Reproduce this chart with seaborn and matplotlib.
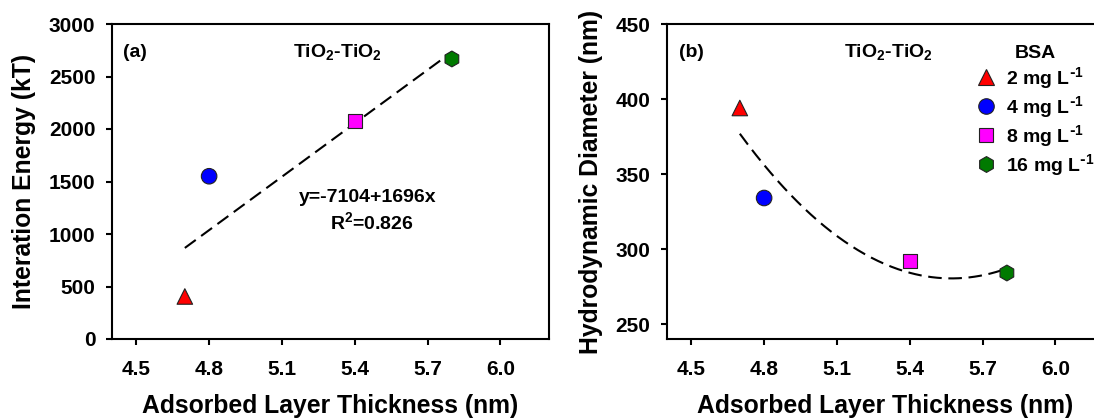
import numpy as np
import pandas as pd
import matplotlib
matplotlib.use("Agg")
import matplotlib.pyplot as plt
import seaborn as sns

# ---- data ----
thickness = [4.7, 4.8, 5.4, 5.8]                 # adsorbed layer thickness (nm)
energy = [405, 1550, 2078, 2667]                 # interaction energy (kT)
diameter = [394, 334, 292, 284]                  # hydrodynamic diameter (nm)
conc_labels = [r"2 mg L$^{\text{-}1}$", r"4 mg L$^{\text{-}1}$",
               r"8 mg L$^{\text{-}1}$", r"16 mg L$^{\text{-}1}$"]
fit_intercept = -7104
fit_slope = 1696
r_squared = 0.826
xticks = [4.5, 4.8, 5.1, 5.4, 5.7, 6.0]
yticks_a = [0, 500, 1000, 1500, 2000, 2500, 3000]
yticks_b = [250, 300, 350, 400, 450]

marker_map = dict(zip(conc_labels, ["^", "o", "s", "h"]))
color_map = dict(zip(conc_labels, ["#ff0000", "#0000ff", "#ff00ff", "#007a00"]))
size_map = dict(zip(conc_labels, [125, 125, 95, 130]))

df = pd.DataFrame({"thickness": thickness, "energy": energy,
                   "diameter": diameter, "conc": conc_labels})

sns.set_style("ticks")
plt.rcParams["font.family"] = ["Liberation Sans", "DejaVu Sans"]
plt.rcParams["font.weight"] = "bold"
plt.rcParams["axes.labelweight"] = "bold"
plt.rcParams["mathtext.default"] = "regular"
plt.rcParams["text.color"] = "black"
plt.rcParams["axes.labelcolor"] = "black"
plt.rcParams["xtick.color"] = "black"
plt.rcParams["ytick.color"] = "black"
plt.rcParams["xtick.labelcolor"] = "black"
plt.rcParams["ytick.labelcolor"] = "black"
plt.rcParams["axes.edgecolor"] = "black"
plt.rcParams["axes.linewidth"] = 1.5
plt.rcParams["xtick.major.width"] = 1.5
plt.rcParams["ytick.major.width"] = 1.5

fig = plt.figure(figsize=(10.94, 4.18), dpi=100)
W, H = 1094, 418
ax1 = fig.add_axes([112 / W, 79 / H, 437 / W, 315 / H])
ax2 = fig.add_axes([667 / W, 79 / H, 437 / W, 315 / H])

tick_fs = 15
label_fs = 17.8
text_fs = 14
dash = (0, (6.5, 3.2))
lw_fit = 1.5

# ---- panel (a) ----
xs_lin = np.array([min(thickness), max(thickness)])
sns.lineplot(x=xs_lin, y=fit_intercept + fit_slope * xs_lin, ax=ax1,
             color="black", lw=lw_fit, linestyle=dash)
sns.scatterplot(data=df, x="thickness", y="energy", hue="conc", style="conc",
                size="conc", sizes=size_map, markers=marker_map,
                palette=color_map, edgecolor="#222222", linewidth=0.8,
                ax=ax1, legend=False, zorder=3)
ax1.set_xlim(4.4, 6.2)
ax1.set_ylim(0, 3000)
ax1.set_yticks(yticks_a)
ax1.set_ylabel("Interation Energy (kT)", fontsize=label_fs, labelpad=9)
ax1.text(0.025, 0.895, "(a)", transform=ax1.transAxes, fontsize=text_fs)
ax1.text(0.515, 0.895, "TiO$_2$-TiO$_2$", transform=ax1.transAxes,
         fontsize=text_fs, ha="center")
ax1.text(0.584, 0.436, f"y={fit_intercept}+{fit_slope}x", transform=ax1.transAxes,
         fontsize=text_fs, ha="center")
ax1.text(0.595, 0.349, f"R$^2$={r_squared}", transform=ax1.transAxes,
         fontsize=text_fs, ha="center")

# ---- panel (b) ----
coef = np.polyfit(thickness, diameter, 2)
xs_q = np.linspace(min(thickness), max(thickness), 200)
sns.lineplot(x=xs_q, y=np.polyval(coef, xs_q), ax=ax2,
             color="black", lw=lw_fit, linestyle=dash)
sns.scatterplot(data=df, x="thickness", y="diameter", hue="conc", style="conc",
                size="conc", sizes=size_map, markers=marker_map,
                palette=color_map, edgecolor="#222222", linewidth=0.8,
                ax=ax2, legend="full", zorder=3)
ax2.set_xlim(4.4, 6.2)
ax2.set_ylim(240, 450)
ax2.set_yticks(yticks_b)
ax2.set_ylabel("Hydrodynamic Diameter (nm)", fontsize=label_fs, labelpad=9)
ax2.text(0.027, 0.895, "(b)", transform=ax2.transAxes, fontsize=text_fs)
ax2.text(0.506, 0.895, "TiO$_2$-TiO$_2$", transform=ax2.transAxes,
         fontsize=text_fs, ha="center")

handles, labels = ax2.get_legend_handles_labels()
ax2.legend(handles=handles, labels=labels, loc="upper left",
           bbox_to_anchor=(0.667, 0.99), frameon=False,
           title="BSA", title_fontproperties={"weight": "bold", "size": text_fs},
           prop={"weight": "bold", "size": text_fs},
           handlelength=1.0, handletextpad=0.55, labelspacing=0.16,
           borderpad=0.4)

for ax in (ax1, ax2):
    ax.set_xticks(xticks)
    ax.set_xticklabels([f"{v:.1f}" for v in xticks])
    ax.set_xlabel("Adsorbed Layer Thickness (nm)", fontsize=label_fs, labelpad=11)
    ax.tick_params(axis="both", direction="out", length=4, labelsize=tick_fs)
    ax.tick_params(axis="x", pad=11)
    ax.tick_params(axis="y", pad=8)
    for s in ax.spines.values():
        s.set_visible(True)
        s.set_linewidth(1.5)

fig.savefig("out.png", dpi=100)
